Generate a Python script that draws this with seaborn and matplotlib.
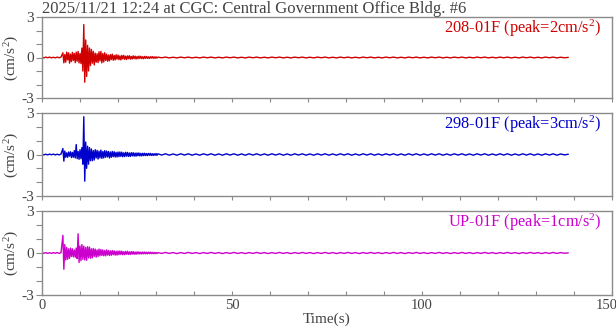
import numpy as np
import pandas as pd
import matplotlib
matplotlib.use("Agg")
import matplotlib.pyplot as plt
import matplotlib.transforms as mtransforms
import seaborn as sns
from matplotlib.ticker import MultipleLocator

sns.set_theme(style="white")
plt.rcParams['font.family'] = ['Liberation Serif', 'DejaVu Serif']
plt.rcParams['mathtext.fontset'] = 'custom'
plt.rcParams['mathtext.rm'] = 'Liberation Serif'
plt.rcParams['mathtext.it'] = 'Liberation Serif'

title = "2025/11/21 12:24 at CGC: Central Government Office Bldg. #6"
channel_names = ["208-01F", "298-01F", "UP-01F"]
channel_peaks = [2, 3, 1]
channel_colors = ["#d10000", "#0000cc", "#cc00cc"]

# segment sample steps (s) and start times
pre_start, pre_step = 0.0, 0.5
burst_start, burst_step = 5.5, 0.25
coda_start, coda_step = 20.25, 0.25
tail_start, tail_step = 30.5, 1.0

# ---- 208-01F (red) ----
red_pre = [0.02, -0.03, 0.03, -0.02, 0.03, -0.03, 0.02, -0.03, 0.03, -0.02, 0.03]
red_burst = [0.35, -0.40, 0.22, -0.35, 0.40, -0.18, 0.35, -0.42, 0.25, -0.30,
             0.38, -0.22, 0.30, -0.38, 0.40, -0.28, 0.45, -0.40, 0.30, -0.45,
             0.70, -1.00, 2.44, -1.83, 1.30, -1.40, 0.90, -1.00, 0.70, -0.60,
             0.60, -0.42, 0.45, -0.55, 0.32, -0.35, 0.28, -0.38, 0.42, -0.25,
             0.45, -0.40, 0.30, -0.33, 0.35, -0.22, 0.25, -0.28, 0.18, -0.25,
             0.22, -0.15, 0.25, -0.20, 0.15, -0.18, 0.20, -0.12, 0.18]
red_coda = [-0.16, 0.12, -0.18, 0.15, -0.10, 0.16, -0.13, 0.10, -0.15, 0.12,
            -0.09, 0.13, -0.12, 0.08, -0.11, 0.12, -0.08, 0.10, -0.11, 0.07,
            -0.09, 0.10, -0.07, 0.09, -0.08, 0.06, -0.09, 0.08, -0.06, 0.08,
            -0.07, 0.05, -0.07, 0.06, -0.05, 0.07, -0.06, 0.05, -0.06, 0.05,
            -0.04]
red_tail = [0.03, -0.02, 0.03, -0.03, 0.02, -0.03, 0.03, -0.02, 0.03, -0.03,
            0.02, -0.03, 0.03, -0.02, 0.03, -0.03, 0.02, -0.03, 0.03, -0.02,
            0.03, -0.03, 0.02, -0.03, 0.03, -0.02, 0.03, -0.03, 0.02, -0.03,
            0.03, -0.02, 0.03, -0.03, 0.02, -0.03, 0.03, -0.02, 0.03, -0.03,
            0.02, -0.03, 0.03, -0.02, 0.03, -0.03, 0.02, -0.03, 0.03, -0.02,
            0.03, -0.03, 0.02, -0.03, 0.03, -0.02, 0.03, -0.03, 0.02, -0.03,
            0.03, -0.02, 0.03, -0.03, 0.02, -0.03, 0.03, -0.02, 0.03, -0.03,
            0.02, -0.03, 0.03, -0.02, 0.03, -0.03, 0.02, -0.03, 0.03, -0.02,
            0.03, -0.03, 0.02, -0.03, 0.03, -0.02, 0.03, -0.03, 0.02, -0.03,
            0.03, -0.02, 0.03, -0.03, 0.02, -0.03, 0.03, -0.02, 0.03, -0.03,
            0.02, -0.03, 0.03, -0.02, 0.03, -0.03, 0.02, -0.02, 0.01]

# ---- 298-01F (blue) ----
blue_pre = [0.03, -0.03, 0.02, -0.03, 0.03, -0.02, 0.03, -0.03, 0.02, -0.03, 0.03]
blue_burst = [0.43, -0.48, 0.25, -0.20, 0.12, -0.20, 0.18, -0.12, 0.20, -0.22,
              0.15, -0.20, 0.28, -0.25, 0.72, -0.30, 0.22, -0.35, 0.35, -0.30,
              0.50, -0.70, 2.73, -1.93, 0.90, -1.00, 0.60, -0.70, 0.50, -0.45,
              0.40, -0.45, 0.28, -0.40, 0.35, -0.25, 0.30, -0.33, 0.24, -0.25,
              0.32, -0.28, 0.22, -0.25, 0.28, -0.20, 0.25, -0.18, 0.22, -0.25,
              0.18, -0.20, 0.22, -0.16, 0.20, -0.18, 0.15, -0.18, 0.18]
blue_coda = [-0.16, 0.18, -0.14, 0.17, -0.16, 0.12, -0.15, 0.16, -0.12, 0.15,
             -0.14, 0.11, -0.14, 0.13, -0.10, 0.13, -0.12, 0.10, -0.12, 0.11,
             -0.09, 0.11, -0.10, 0.08, -0.10, 0.09, -0.08, 0.09, -0.08, 0.07,
             -0.08, 0.08, -0.06, 0.08, -0.07, 0.06, -0.07, 0.06, -0.06, 0.07,
             -0.06]
blue_tail = [0.05, -0.04, 0.05, -0.05, 0.04, -0.05, 0.05, -0.04, 0.05, -0.05,
             0.04, -0.05, 0.05, -0.04, 0.05, -0.05, 0.04, -0.05, 0.05, -0.04,
             0.05, -0.05, 0.04, -0.05, 0.05, -0.04, 0.05, -0.05, 0.04, -0.05,
             0.05, -0.04, 0.05, -0.05, 0.04, -0.05, 0.05, -0.04, 0.05, -0.05,
             0.04, -0.05, 0.05, -0.04, 0.05, -0.05, 0.04, -0.05, 0.05, -0.04,
             0.05, -0.05, 0.04, -0.05, 0.05, -0.04, 0.05, -0.05, 0.04, -0.05,
             0.05, -0.04, 0.05, -0.05, 0.04, -0.05, 0.05, -0.04, 0.05, -0.05,
             0.04, -0.05, 0.05, -0.04, 0.05, -0.05, 0.04, -0.05, 0.05, -0.04,
             0.05, -0.05, 0.04, -0.05, 0.05, -0.04, 0.05, -0.05, 0.04, -0.05,
             0.05, -0.04, 0.05, -0.05, 0.04, -0.05, 0.05, -0.04, 0.05, -0.05,
             0.04, -0.05, 0.05, -0.04, 0.05, -0.05, 0.04, -0.03, 0.02]

# ---- UP-01F (magenta) ----
mag_pre = [0.03, -0.02, 0.03, -0.03, 0.02, -0.03, 0.03, -0.02, 0.03, -0.03, 0.02]
mag_burst = [1.26, -1.16, 0.60, -0.50, 0.40, -0.45, 0.30, -0.38, 0.35, -0.25,
             0.30, -0.28, 0.22, -0.30, 0.35, -0.40, 1.37, -0.68, 0.50, -0.55,
             0.60, -0.45, 0.50, -0.50, 0.40, -0.52, 0.45, -0.35, 0.42, -0.38,
             0.30, -0.35, 0.32, -0.25, 0.28, -0.30, 0.22, -0.25, 0.28, -0.20,
             0.25, -0.18, 0.22, -0.20, 0.18, -0.20, 0.22, -0.15, 0.18, -0.18,
             0.15, -0.16, 0.18, -0.12, 0.15, -0.15, 0.12, -0.15, 0.14]
mag_coda = [-0.12, 0.14, -0.11, 0.13, -0.12, 0.09, -0.12, 0.11, -0.09, 0.12,
            -0.10, 0.08, -0.10, 0.10, -0.08, 0.10, -0.09, 0.07, -0.09, 0.08,
            -0.07, 0.08, -0.07, 0.06, -0.07, 0.07, -0.06, 0.07, -0.06, 0.05,
            -0.06, 0.06, -0.05, 0.06, -0.05, 0.05, -0.05, 0.04, -0.05, 0.04,
            -0.04]
mag_tail = [0.03, -0.03, 0.04, -0.03, 0.03, -0.04, 0.03, -0.03, 0.04, -0.03,
            0.03, -0.04, 0.03, -0.03, 0.04, -0.03, 0.03, -0.04, 0.03, -0.03,
            0.04, -0.03, 0.03, -0.04, 0.03, -0.03, 0.04, -0.03, 0.03, -0.04,
            0.03, -0.03, 0.04, -0.03, 0.03, -0.04, 0.03, -0.03, 0.04, -0.03,
            0.03, -0.04, 0.03, -0.03, 0.04, -0.03, 0.03, -0.04, 0.03, -0.03,
            0.04, -0.03, 0.03, -0.04, 0.03, -0.03, 0.04, -0.03, 0.03, -0.04,
            0.03, -0.03, 0.04, -0.03, 0.03, -0.04, 0.03, -0.03, 0.04, -0.03,
            0.03, -0.04, 0.03, -0.03, 0.04, -0.03, 0.03, -0.04, 0.03, -0.03,
            0.04, -0.03, 0.03, -0.04, 0.03, -0.03, 0.04, -0.03, 0.03, -0.04,
            0.03, -0.03, 0.04, -0.03, 0.03, -0.04, 0.03, -0.03, 0.04, -0.03,
            0.03, -0.04, 0.03, -0.03, 0.04, -0.03, 0.03, -0.02, 0.01]

x_ticks = [0, 50, 100, 150]
y_ticks = [-3, 0, 3]

channels = [
    (red_pre, red_burst, red_coda, red_tail),
    (blue_pre, blue_burst, blue_coda, blue_tail),
    (mag_pre, mag_burst, mag_coda, mag_tail),
]


def build_trace(pre, burst, coda, tail):
    segs = [(pre_start, pre_step, pre), (burst_start, burst_step, burst),
            (coda_start, coda_step, coda), (tail_start, tail_step, tail)]
    ts, vs = [], []
    for start, step, vals in segs:
        ts.append(start + step * np.arange(len(vals)))
        vs.append(np.asarray(vals, dtype=float))
    return pd.DataFrame({"t": np.concatenate(ts), "v": np.concatenate(vs)})


fig = plt.figure(figsize=(6.16, 3.34), dpi=100)
left, width = 42 / 616, 570 / 616
tops = [17, 113, 211]
bottoms = [98, 196, 295]

grey_text = "#444444"
grey_line = "#8a8a8a"

for i, (chan, name, peak, col) in enumerate(zip(channels, channel_names,
                                               channel_peaks, channel_colors)):
    b = 1 - bottoms[i] / 334
    h = (bottoms[i] - tops[i]) / 334
    ax = fig.add_axes([left, b, width, h])
    df = build_trace(*chan)
    sns.lineplot(data=df, x="t", y="v", ax=ax, color=col, linewidth=1.0,
                 estimator=None, sort=False)
    ax.set_xlim(0, 150)
    ax.set_ylim(-3, 3)
    ax.set_yticks(y_ticks)
    ax.set_yticklabels([str(y) for y in y_ticks])
    ax.yaxis.set_minor_locator(MultipleLocator(1))
    ax.set_xticks(x_ticks)
    ax.xaxis.set_minor_locator(MultipleLocator(10))
    for s in ax.spines.values():
        s.set_color(grey_line)
        s.set_linewidth(1.0)
    ax.tick_params(axis='y', which='both', direction='out', length=4,
                   width=0.8, color=grey_line, labelsize=11,
                   labelcolor=grey_text, pad=2, left=True)
    if i < 2:
        ax.tick_params(axis='x', which='both', direction='out', length=3,
                       width=0.8, color=grey_line, labelbottom=False, bottom=True)
    else:
        ax.tick_params(axis='x', which='both', direction='in', length=3,
                       width=0.8, color=grey_line, labelsize=10.5,
                       labelcolor=grey_text, pad=3, bottom=True)
        # keep the last tick label inside the figure edge
        last = ax.get_xticklabels()[-1]
        last.set_transform(last.get_transform() +
                           mtransforms.ScaledTranslation(-5 / 100, 0,
                                                         fig.dpi_scale_trans))
    ax.set_xlabel("")
    ax.set_ylabel("(cm/s$^2$)", fontsize=11, color=grey_text)
    ax.yaxis.set_label_coords(-0.036, 0.5)
    ax.text(0.982, 0.86, f"{name} (peak={peak}cm/s$^2$)", transform=ax.transAxes,
            ha='right', va='center', color=col, fontsize=11.8)
    if i == 0:
        ax.set_title(title, loc='left', fontsize=12, color=grey_text, pad=2)
    if i == 2:
        ax.set_xlabel("Time(s)", fontsize=11, color=grey_text, labelpad=0)

fig.savefig("out.png", dpi=100)
